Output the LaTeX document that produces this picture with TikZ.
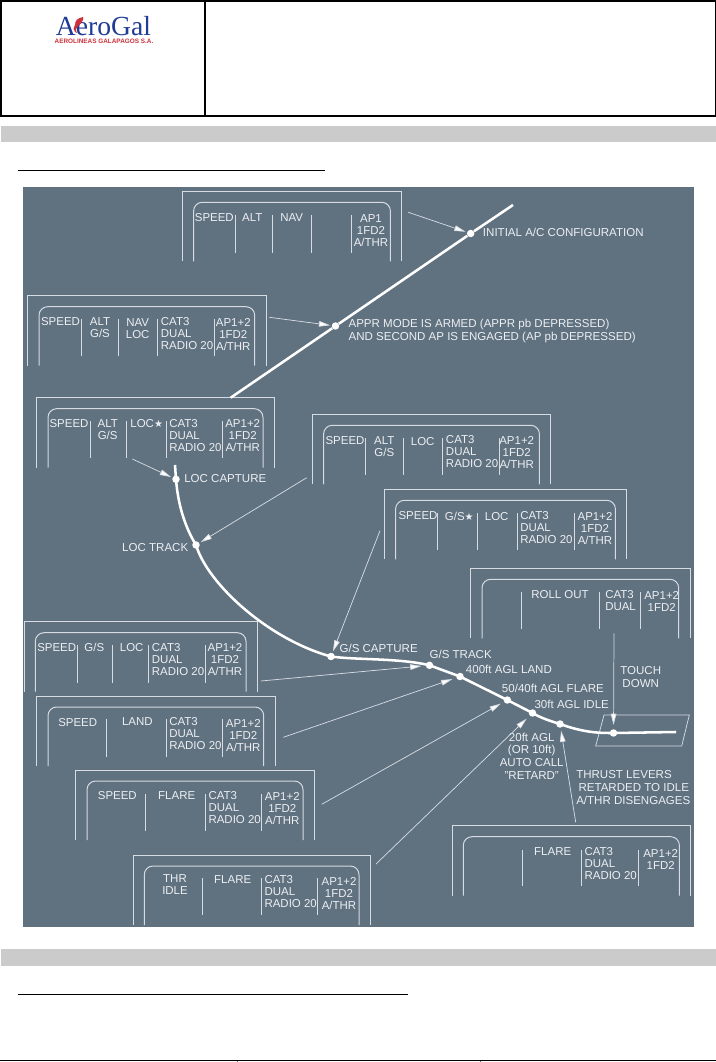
\documentclass[tikz,border=0pt]{standalone}
\usepackage{fontspec}
\setmainfont{Liberation Sans}
\newfontfamily\logofont{Liberation Serif}
\newfontfamily\starfont{DejaVu Sans}
\usepackage{tikz}
\usetikzlibrary{arrows.meta}
\definecolor{panelbg}{RGB}{96,113,128}
\definecolor{paneline}{RGB}{214,220,225}
\definecolor{paneltext}{RGB}{236,239,242}
\definecolor{logoblue}{RGB}{30,60,150}
\definecolor{logored}{RGB}{205,50,60}
\definecolor{bargray}{RGB}{203,203,203}
\tikzstyle{frameline} = [draw=paneline, line width=0.75pt]
\tikzstyle{fmacol} = [inner sep=0pt, text=paneltext, align=center, font=\fontsize{8.6}{9}\selectfont]
\tikzstyle{fmaleft} = [fmacol, align=left, anchor=west]
\tikzstyle{phase} = [inner sep=0pt, text=paneltext, align=left, anchor=west, font=\fontsize{8.65}{9.5}\selectfont]
\tikzstyle{dot} = [circle, fill=white, inner sep=0pt, minimum size=5.6pt]
\tikzstyle{flightpath} = [draw=white, line width=1.9pt]
\tikzstyle{arrow} = [draw=paneline, line width=0.55pt, -{Triangle[length=8.5pt,width=4.2pt,fill=white]}, shorten >=1pt]
\newcommand{\fmaframe}[3]{%
  \draw[frameline] (#1,#2+70) -- (#1,#2) -- (#3,#2) -- (#3,#2+70);
  \draw[frameline, rounded corners=6.5pt] (#1+11.3,#2+70) -- (#1+11.3,#2+11) -- (#3-11.3,#2+11) -- (#3-11.3,#2+70);
}
\begin{document}
\begin{tikzpicture}[x=0.75pt, y=-0.75pt, >=Triangle]
\useasboundingbox (0,0) rectangle (716,1062);
\fill[white] (0,0) rectangle (716,1062);

% Page header
\draw[black, line width=1.5pt] (0.5,1) rectangle (715.5,116.5);
\draw[black, line width=1.5pt] (205,1) -- (205,116.5);
\node (logoname) [inner sep=0pt, text=logoblue, font=\logofont\fontsize{20.7}{22}\selectfont] at (103.5,26) {AeroGal};
\node (logosub) [inner sep=0pt, text=logored, font=\bfseries\fontsize{4.8}{5}\selectfont] at (104,41.5) {AEROLINEAS GALAPAGOS S.A.};
\fill[logored] (75,25) .. controls (75,20) and (78,18) .. (83,17) -- (83,20) .. controls (81,23) and (80,25) .. (78,26) .. controls (76,28) and (75,30) .. (77,33) -- (75,32) .. controls (73,30) and (73,27) .. (75,25) -- cycle;
\fill[bargray] (1,126) rectangle (716,142);
\draw[black, line width=0.8pt] (18,170.3) -- (325,170.3);

% Page footer
\fill[bargray] (1,949) rectangle (716,965.5);
\draw[black, line width=0.8pt] (18,994.3) -- (408,994.3);
\draw[black, line width=1.3pt] (0,1060.6) -- (716,1060.6);
\draw[black!60, line width=0.5pt] (237,1060.6) -- (237,1062);
\draw[black!60, line width=0.5pt] (480,1060.6) -- (480,1062);

% Background of the figure
\fill[panelbg] (23,187) rectangle (694,926.7);

% Initial configuration panel
\fmaframe{182.3}{191.3}{401.7}
\foreach \x in {235,272.3,311.7,351} \draw[frameline] (\x,215) -- (\x,253);
\node (initspeed) [fmacol] at (214.3,217.7) {SPEED};
\node (initalt) [fmacol] at (252.3,217.7) {ALT};
\node (initnav) [fmacol] at (291.7,217.7) {NAV};
\node (initap) [fmacol] at (371,230.5) {AP1\\1FD2\\A/THR};

% Appr armed panel
\fmaframe{27.7}{295.7}{266}
\foreach \x in {81,118.3,157.7,214.3} \draw[frameline] (\x,319) -- (\x,356);
\node (apprspeed) [fmacol] at (60.5,321.7) {SPEED};
\node (appralt) [fmacol] at (100,327.5) {ALT\\G/S};
\node (apprnav) [fmacol] at (137.7,329) {NAV\\LOC};
\node (apprcat) [fmaleft] at (160.7,333.7) {CAT3\\DUAL\\RADIO 20};
\node (apprap) [fmacol] at (233.3,334.3) {AP1+2\\1FD2\\A/THR};

% Loc capture panel
\fmaframe{36.7}{397.7}{274.3}
\foreach \x in {90,126,166.7,222.3} \draw[frameline] (\x,421) -- (\x,458.3);
\node (lccspeed) [fmacol] at (69,423.7) {SPEED};
\node (lccalt) [fmacol] at (107.7,429.7) {ALT\\G/S};
\node (lccloc) [fmacol] at (146.7,424) {LOC{\starfont\fontsize{7.5}{9}\selectfont ★}};
\node (lcccat) [fmaleft] at (169,435.5) {CAT3\\DUAL\\RADIO 20};
\node (lccap) [fmacol] at (242.7,436) {AP1+2\\1FD2\\A/THR};

% Loc track panel
\fmaframe{312.3}{414.3}{550.7}
\foreach \x in {365.7,403,442.7,499} \draw[frameline] (\x,438.3) -- (\x,475);
\node (lctspeed) [fmacol] at (345,440.7) {SPEED};
\node (lctalt) [fmacol] at (384.3,446.5) {ALT\\G/S};
\node (lctloc) [fmacol] at (422.7,441.7) {LOC};
\node (lctcat) [fmaleft] at (445.7,451.7) {CAT3\\DUAL\\RADIO 20};
\node (lctap) [fmacol] at (516.7,453) {AP1+2\\1FD2\\A/THR};

% G/S capture panel
\fmaframe{384.3}{489.3}{626.7}
\foreach \x in {437.7,477.3,517.3,574.3} \draw[frameline] (\x,513.3) -- (\x,550);
\node (gscspeed) [fmacol] at (418,516) {SPEED};
\node (gscgs) [fmacol] at (459.3,516) {G/S{\starfont\fontsize{7.5}{9}\selectfont ★}};
\node (gscloc) [fmacol] at (496.7,516.7) {LOC};
\node (gsccat) [fmaleft] at (520,527.7) {CAT3\\DUAL\\RADIO 20};
\node (gscap) [fmacol] at (595,528.5) {AP1+2\\1FD2\\A/THR};

% Roll out panel
\fmaframe{470.7}{568.3}{690}
\foreach \x in {521.7,599.7,640} \draw[frameline] (\x,592.3) -- (\x,629.3);
\node (rollmode) [fmacol] at (560,595) {ROLL OUT};
\node (rollcat) [fmaleft] at (605,601) {CAT3\\DUAL};
\node (rollap) [fmacol] at (661.7,601) {AP1+2\\1FD2};

% G/S track panel
\fmaframe{24}{621.7}{257.3}
\foreach \x in {77.3,112.3,148.3,205.3} \draw[frameline] (\x,645) -- (\x,682.7);
\node (gstspeed) [fmacol] at (56.7,647.3) {SPEED};
\node (gstgs) [fmacol] at (94.3,647.3) {G/S};
\node (gstloc) [fmacol] at (131.7,647.3) {LOC};
\node (gstcat) [fmaleft] at (151.7,659.5) {CAT3\\DUAL\\RADIO 20};
\node (gstap) [fmacol] at (225,660) {AP1+2\\1FD2\\A/THR};

% Land panel
\fmaframe{36.7}{696}{275}
\foreach \x in {106.7,166.7,222.7} \draw[frameline] (\x,719.3) -- (\x,757.3);
\node (landspeed) [fmacol] at (77.7,722.3) {SPEED};
\node (landmode) [fmacol] at (137.3,722) {LAND};
\node (landcat) [fmaleft] at (169,734) {CAT3\\DUAL\\RADIO 20};
\node (landap) [fmacol] at (243.3,735.3) {AP1+2\\1FD2\\A/THR};

% Flare panel
\fmaframe{75.7}{770}{314.3}
\foreach \x in {145.7,205.3,261.7} \draw[frameline] (\x,794) -- (\x,830.7);
\node (flrspeed) [fmacol] at (117.3,796) {SPEED};
\node (flrmode) [fmacol] at (176.7,796) {FLARE};
\node (flrcat) [fmaleft] at (208.3,807.5) {CAT3\\DUAL\\RADIO 20};
\node (flrap) [fmacol] at (282.3,809) {AP1+2\\1FD2\\A/THR};

% Thr idle panel
\fmaframe{133}{855}{370.3}
\foreach \x in {202.3,261.7,317.7} \draw[frameline] (\x,878) -- (\x,915);
\node (idlthr) [fmacol] at (175,884.7) {THR\\IDLE};
\node (idlmode) [fmacol] at (232.7,880) {FLARE};
\node (idlcat) [fmaleft] at (264.3,892) {CAT3\\DUAL\\RADIO 20};
\node (idlap) [fmacol] at (339,893.5) {AP1+2\\1FD2\\A/THR};

% Retard panel
\fmaframe{452}{825.7}{690.7}
\foreach \x in {522,581,638.7} \draw[frameline] (\x,850) -- (\x,886);
\node (retmode) [fmacol] at (552.7,851.7) {FLARE};
\node (retcat) [fmaleft] at (584.3,863.7) {CAT3\\DUAL\\RADIO 20};
\node (retap) [fmacol] at (660.7,859) {AP1+2\\1FD2};

% Runway
\draw[frameline, line width=0.55pt] (604,715) -- (689.3,715) -- (681.7,746) -- (595.7,746) -- cycle;

% Points of the flight path
\coordinate (pathtop) at (513,205);
\coordinate (pathgap) at (230.7,397.7);
\coordinate (pathresume) at (175,465);
\coordinate (pathend) at (676,732);
\node (dotinit) [dot] at (470.7,233.5) {};
\node (dotappr) [dot] at (335.5,326) {};
\node (dotloccap) [dot] at (176,479.3) {};
\node (dotloctrk) [dot] at (196,545) {};
\node (dotgscap) [dot] at (331,656.5) {};
\node (dotgstrk) [dot] at (429.5,665.3) {};
\node (dotland) [dot] at (460,676.5) {};
\node (dotflare) [dot] at (507.3,700) {};
\node (dotretard) [dot] at (532.5,713) {};
\node (dotidle) [dot] at (560,724) {};
\node (dottouch) [dot] at (613.5,733) {};

% Flight path
\draw[flightpath] (pathtop) -- (dotinit) -- (dotappr) -- (pathgap);
\draw[flightpath] (pathresume) -- (dotloccap.center) .. controls (178,505) and (185,527) .. (dotloctrk.center)
  .. controls (208,585) and (270,640) .. (dotgscap.center)
  .. controls (355,660) and (400,658) .. (dotgstrk.center)
  -- (dotland.center) -- (dotflare.center) -- (dotretard.center)
  .. controls (541,718) and (550,721) .. (dotidle.center)
  .. controls (585,733) and (600,733) .. (dottouch.center) -- (pathend);

% Phase labels
\node (lblinit) [phase] at (482.7,232.3) {INITIAL A/C CONFIGURATION};
\node (lblappr) [phase] at (348.3,330.8) {APPR MODE IS ARMED (APPR pb DEPRESSED)\\AND SECOND AP IS ENGAGED (AP pb DEPRESSED)};
\node (lblloccap) [phase] at (184,478.3) {LOC CAPTURE};
\node (lblloctrk) [phase, anchor=east] at (188.5,548) {LOC TRACK};
\node (lblgscap) [phase] at (339.3,648.3) {G/S CAPTURE};
\node (lblgstrk) [phase] at (429.3,654) {G/S TRACK};
\node (lblland) [phase] at (465.7,669.3) {400ft AGL LAND};
\node (lblflare) [phase] at (501.7,688.3) {50/40ft AGL FLARE};
\node (lblidle) [phase] at (534.3,704) {30ft AGL IDLE};
\node (lblretard) [phase, anchor=center, align=center] at (531.7,756) {20ft AGL\\(OR 10ft)\\AUTO CALL\\"RETARD"};
\node (lbltouch) [phase, anchor=center, align=center] at (640.7,677) {TOUCH\\DOWN};
\node (lblthrust) [phase] at (576,787.5) {THRUST LEVERS\\\hspace*{1.7pt}RETARDED TO IDLE\\A/THR DISENGAGES};

% Arrow tails
\coordinate (tailinit) at (408.3,212.3);
\coordinate (tailappr) at (269.3,317.3);
\coordinate (tailloccap) at (132.3,459);
\coordinate (tailloctrk) at (306.7,477.7);
\coordinate (tailgscap) at (380,530.7);
\coordinate (tailgstrk) at (261,681);
\coordinate (tailland) at (283.3,737.3);
\coordinate (tailflare) at (321.7,804.3);
\coordinate (tailretard) at (376,864);
\coordinate (tailidle) at (575.7,822.3);
\coordinate (tailtouch) at (614,633.3);

% Arrows
\draw [arrow] (tailinit) -- (dotinit);
\draw [arrow] (tailappr) -- (dotappr);
\draw [arrow] (tailloccap) -- (dotloccap);
\draw [arrow] (tailloctrk) -- (dotloctrk);
\draw [arrow] (tailgscap) -- (dotgscap);
\draw [arrow, shorten >=3pt] (tailgstrk) -- (dotgstrk);
\draw [arrow, shorten >=3pt] (tailland) -- (dotland);
\draw [arrow, shorten >=2.5pt] (tailflare) -- (dotflare);
\draw [arrow, shorten >=3pt] (tailretard) -- (dotretard);
\draw [arrow, shorten >=2pt] (tailidle) -- (dotidle);
\draw [arrow, shorten >=3pt] (tailtouch) -- (dottouch);

\end{tikzpicture}
\end{document}
